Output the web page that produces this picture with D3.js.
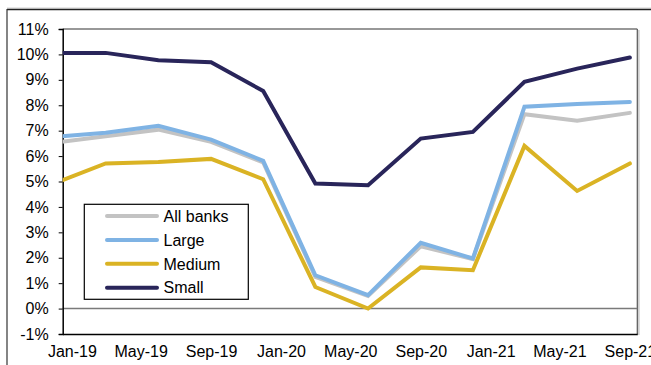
<!DOCTYPE html>
<html>
<head>
<meta charset="utf-8">
<script src="https://cdn.jsdelivr.net/npm/d3@7"></script>
<style>
  html, body { margin: 0; padding: 0; background: #fff; }
  svg { display: block; font-family: "Liberation Sans", Arial, sans-serif; }
</style>
</head>
<body>
<svg id="chart" width="651" height="365"></svg>
<script>
// Quarterly observation dates (first of the quarter-end month)
const dates = ["2018-12-01", "2019-03-01", "2019-06-01", "2019-09-01", "2019-12-01", "2020-03-01",
               "2020-06-01", "2020-09-01", "2020-12-01", "2021-03-01", "2021-06-01", "2021-09-01"];

// Growth rates by bank size, %
const allBanks = [6.52, 6.78, 7.04, 6.56, 5.75, 1.25, 0.50, 2.45, 1.95, 7.65, 7.39, 7.70];
const large    = [6.75, 6.92, 7.19, 6.65, 5.81, 1.31, 0.53, 2.59, 1.97, 7.94, 8.05, 8.13];
const medium   = [4.92, 5.71, 5.77, 5.89, 5.09, 0.85, 0.00, 1.62, 1.51, 6.40, 4.63, 5.71];
const small    = [10.06, 10.06, 9.77, 9.69, 8.56, 4.92, 4.85, 6.69, 6.95, 8.92, 9.44, 9.88];

const seriesNames = ["All banks", "Large", "Medium", "Small"];
const seriesColors = ["#c3c3c3", "#7fb3e4", "#dab324", "#29255a"];

const xTickLabels = ["Jan-19", "May-19", "Sep-19", "Jan-20", "May-20", "Sep-20", "Jan-21", "May-21", "Sep-21"];
const yTicks = [-1, 0, 1, 2, 3, 4, 5, 6, 7, 8, 9, 10, 11];

const svg = d3.select("#chart");
const plot = { left: 62.7, right: 637.3, top: 29, bottom: 334 };

const parseDate = d3.timeParse("%Y-%m-%d");
const parseLabel = d3.timeParse("%b-%y");

const x = d3.scaleTime()
  .domain([new Date(2018, 11, 16), new Date(2021, 8, 14)])
  .range([plot.left, plot.right]);
const y = d3.scaleLinear().domain([-1, 11]).range([plot.bottom, plot.top]);

// Outer frame of the figure
svg.append("line").attr("x1", 7).attr("x2", 651).attr("y1", 8).attr("y2", 8)
  .attr("stroke", "#d0d0d0").attr("stroke-width", 1);
svg.append("line").attr("x1", 7).attr("x2", 651).attr("y1", 9.5).attr("y2", 9.5)
  .attr("stroke", "#222").attr("stroke-width", 1.3);
svg.append("line").attr("x1", 7).attr("x2", 7).attr("y1", 9).attr("y2", 365)
  .attr("stroke", "#333").attr("stroke-width", 1.2);

// Plot area border (top and right) with a faint shadow
svg.append("line").attr("x1", plot.right + 1.6).attr("x2", plot.right + 1.6)
  .attr("y1", plot.top + 1).attr("y2", plot.bottom + 1)
  .attr("stroke", "#bdbdbd").attr("stroke-width", 1.2);
svg.append("line").attr("x1", plot.left).attr("x2", plot.right)
  .attr("y1", plot.top).attr("y2", plot.top).attr("stroke", "#333").attr("stroke-width", 1.2);
svg.append("line").attr("x1", plot.right).attr("x2", plot.right)
  .attr("y1", plot.top).attr("y2", plot.bottom).attr("stroke", "#555").attr("stroke-width", 1.2);

// Zero line
svg.append("line").attr("x1", plot.left).attr("x2", plot.right)
  .attr("y1", y(0)).attr("y2", y(0)).attr("stroke", "#7a7a7a").attr("stroke-width", 1.5);

// Y axis
const yAxis = svg.append("g").attr("transform", `translate(${plot.left},0)`)
  .call(d3.axisLeft(y).tickValues(yTicks).tickSize(4).tickPadding(10)
    .tickFormat(d => (d < 0 ? "-" + Math.abs(d) : d) + "%"));
yAxis.select(".domain").attr("stroke", "#000").attr("stroke-width", 1.5);
yAxis.selectAll(".tick line").attr("stroke", "#000");
yAxis.selectAll("text").attr("font-size", 16).attr("fill", "#000")
  .attr("font-family", "Liberation Sans, Arial, sans-serif");

// X axis
const xAxis = svg.append("g").attr("transform", `translate(0,${plot.bottom})`)
  .call(d3.axisBottom(x).tickValues(xTickLabels.map(parseLabel)).tickSize(0).tickPadding(12)
    .tickFormat(d3.timeFormat("%b-%y")));
xAxis.select(".domain").attr("stroke", "#000").attr("stroke-width", 1.5);
xAxis.selectAll("text").attr("font-size", 16).attr("fill", "#000")
  .attr("font-family", "Liberation Sans, Arial, sans-serif");

// Series lines, clipped to the plot area
svg.append("clipPath").attr("id", "plot-clip").append("rect")
  .attr("x", plot.left).attr("y", plot.top)
  .attr("width", plot.right - plot.left).attr("height", plot.bottom - plot.top);

const seriesValues = [allBanks, large, medium, small];
const line = d3.line().x(d => x(d.date)).y(d => y(d.value));
const lines = svg.append("g").attr("clip-path", "url(#plot-clip)");
seriesValues.forEach((vals, i) => {
  const pts = vals.map((v, j) => ({ date: parseDate(dates[j]), value: v }));
  lines.append("path").datum(pts)
    .attr("d", line)
    .attr("fill", "none")
    .attr("stroke", seriesColors[i])
    .attr("stroke-width", 4)
    .attr("stroke-linejoin", "miter")
    .attr("stroke-linecap", "round");
});

// Legend
const legend = svg.append("g");
legend.append("rect").attr("x", 84.3).attr("y", 204.3).attr("width", 164).attr("height", 95)
  .attr("fill", "#fff").attr("stroke", "#000").attr("stroke-width", 1.2);
seriesNames.forEach((name, i) => {
  const ly = 216 + i * 23.9;
  legend.append("line").attr("x1", 107).attr("x2", 157).attr("y1", ly).attr("y2", ly)
    .attr("stroke", seriesColors[i]).attr("stroke-width", 4).attr("stroke-linecap", "round");
  legend.append("text").attr("x", 163.5).attr("y", ly).attr("dy", "0.36em")
    .attr("font-size", 16).attr("fill", "#000").text(name);
});
</script>
</body>
</html>
